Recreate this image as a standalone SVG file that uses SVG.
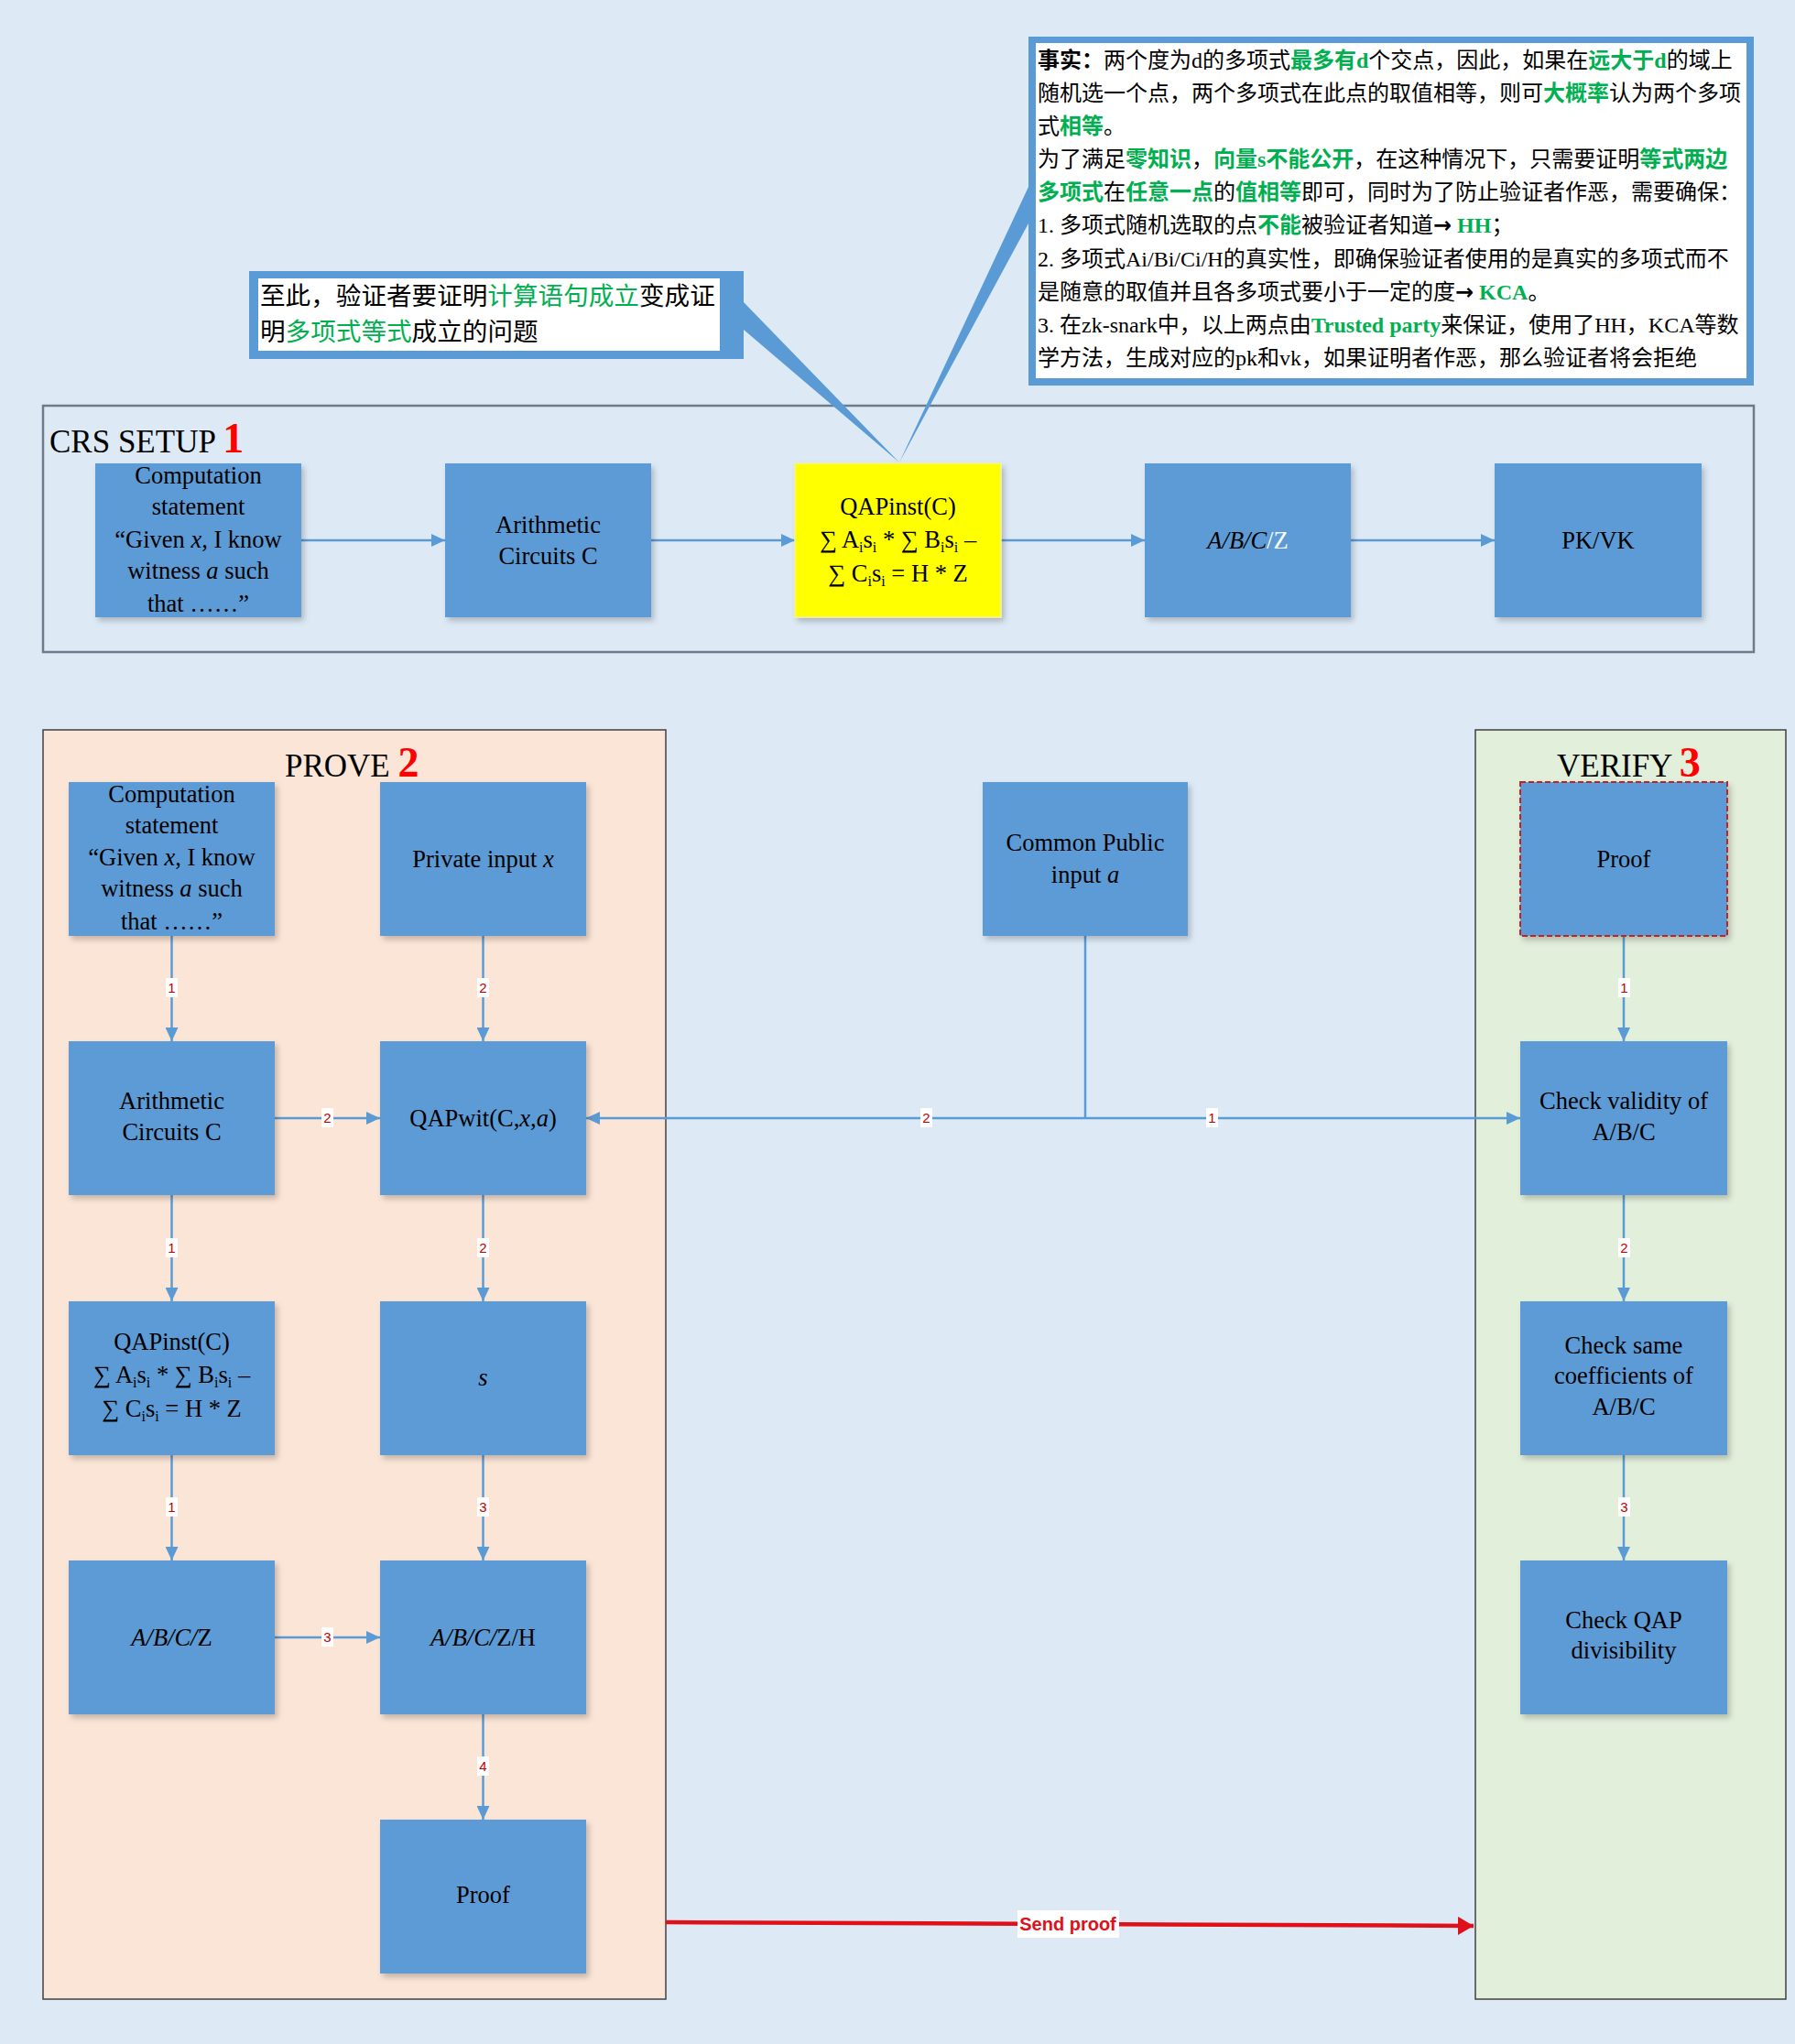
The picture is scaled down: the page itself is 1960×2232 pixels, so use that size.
<svg xmlns="http://www.w3.org/2000/svg" width="1960" height="2232" viewBox="0 0 1960 2232">
<defs>
<filter id="sh" x="-10%" y="-10%" width="130%" height="130%">
<feDropShadow dx="3" dy="4" stdDeviation="3" flood-color="#000" flood-opacity="0.22"/>
</filter>
<marker id="arr" markerUnits="userSpaceOnUse" markerWidth="16" markerHeight="14" refX="15" refY="7" orient="auto">
<path d="M0,0 L15,7 L0,14 z" fill="#5B9BD5"/>
</marker>
<marker id="arrR" markerUnits="userSpaceOnUse" markerWidth="18" markerHeight="20" refX="17" refY="10" orient="auto">
<path d="M0,0 L17,10 L0,20 z" fill="#E0101A"/>
</marker>
</defs>
<style>
.node{fill:#5B9BD5;filter:url(#sh)}
.t{font-family:'Liberation Serif','Times New Roman',serif;font-size:26.5px;text-anchor:middle;fill:#000}
.ttl{font-family:'Liberation Serif','Times New Roman',serif;font-size:35px;fill:#000}
.num{font-weight:bold;fill:#FF0000;font-size:46px}
.conn{stroke:#5B9BD5;stroke-width:2.5;fill:none}
.lbl{font-family:'Liberation Sans',Arial,sans-serif;font-size:15px;fill:#C00000;text-anchor:middle}
.lb{fill:#fff}
.cjk{font-family:'Liberation Serif','Noto Sans CJK SC',serif;font-size:24px;fill:#000}
.cjk2{font-family:'Liberation Serif','Noto Sans CJK SC',serif;font-size:27.6px;fill:#000}
.g{fill:#00B050}
.gb{fill:#00B050;font-weight:bold}
.i{font-style:italic}
.sub{font-size:16px}
.ar{font-family:'DejaVu Sans',sans-serif;font-weight:bold}
.cont{stroke:#404040;stroke-width:1.5}
</style>
<rect x="0" y="0" width="1960" height="2232" fill="#DDEAF6"/>

<!-- containers -->
<g id="crs-setup">
<rect x="47" y="443" width="1868" height="269" fill="#DDEAF6" stroke="#6D7B8D" stroke-width="2.5"/>
<text class="ttl" x="54" y="494">CRS SETUP <tspan class="num">1</tspan></text>
</g>
<g id="prove">
<rect class="cont" x="47" y="797" width="680" height="1386" fill="#FBE5D6"/>
<text class="ttl" x="311" y="848">PROVE <tspan class="num">2</tspan></text>
</g>
<g id="verify">
<rect class="cont" x="1611" y="797" width="339" height="1386" fill="#E2EFDA"/>
<text class="ttl" x="1700" y="848">VERIFY <tspan class="num">3</tspan></text>
</g>

<!-- callouts -->
<g id="callout-fact">
<polygon points="982,505 1123,204 1123,244" fill="#5B9BD5"/>
<rect x="1123" y="40" width="792" height="381" fill="#5B9BD5"/>
<rect x="1131" y="47" width="776" height="366" fill="#FFFFFF"/>
<text class="cjk" x="1133" y="74"><tspan font-weight="bold">事实：</tspan>两个度为d的多项式<tspan class="gb">最多有d</tspan>个交点，因此，如果在<tspan class="gb">远大于d</tspan>的域上</text>
<text class="cjk" x="1133" y="110">随机选一个点，两个多项式在此点的取值相等，则可<tspan class="gb">大概率</tspan>认为两个多项</text>
<text class="cjk" x="1133" y="146">式<tspan class="gb">相等</tspan>。</text>
<text class="cjk" x="1133" y="182">为了满足<tspan class="gb">零知识</tspan>，<tspan class="gb">向量s不能公开</tspan>，在这种情况下，只需要证明<tspan class="gb">等式两边</tspan></text>
<text class="cjk" x="1133" y="218"><tspan class="gb">多项式</tspan>在<tspan class="gb">任意一点</tspan>的<tspan class="gb">值相等</tspan>即可，同时为了防止验证者作恶，需要确保：</text>
<text class="cjk" x="1133" y="254">1. 多项式随机选取的点<tspan class="gb">不能</tspan>被验证者知道<tspan class="ar">→</tspan> <tspan class="gb">HH</tspan>；</text>
<text class="cjk" x="1133" y="291">2. 多项式Ai/Bi/Ci/H的真实性，即确保验证者使用的是真实的多项式而不</text>
<text class="cjk" x="1133" y="327">是随意的取值并且各多项式要小于一定的度<tspan class="ar">→</tspan> <tspan class="gb">KCA</tspan>。</text>
<text class="cjk" x="1133" y="363">3. 在zk-snark中，以上两点由<tspan class="gb">Trusted party</tspan>来保证，使用了HH，KCA等数</text>
<text class="cjk" x="1133" y="399">学方法，生成对应的pk和vk，如果证明者作恶，那么验证者将会拒绝</text>
</g>
<g id="callout-summary">
<polygon points="982,505 812,330 812,360" fill="#5B9BD5"/>
<rect x="272" y="296" width="540" height="96" fill="#5B9BD5"/>
<rect x="282" y="304" width="504" height="79" fill="#FFFFFF"/>
<text class="cjk2" x="284" y="333">至此，验证者要证明<tspan class="g">计算语句成立</tspan>变成证</text>
<text class="cjk2" x="284" y="372">明<tspan class="g">多项式等式</tspan>成立的问题</text>
</g>

<!-- connectors -->
<g id="connectors">
<line class="conn" x1="329" y1="590" x2="486" y2="590" marker-end="url(#arr)"/>
<line class="conn" x1="711" y1="590" x2="868" y2="590" marker-end="url(#arr)"/>
<line class="conn" x1="1093" y1="590" x2="1250" y2="590" marker-end="url(#arr)"/>
<line class="conn" x1="1475" y1="590" x2="1632" y2="590" marker-end="url(#arr)"/>

<line class="conn" x1="187.5" y1="1022" x2="187.5" y2="1137" marker-end="url(#arr)"/>
<line class="conn" x1="187.5" y1="1305" x2="187.5" y2="1421" marker-end="url(#arr)"/>
<line class="conn" x1="187.5" y1="1589" x2="187.5" y2="1704" marker-end="url(#arr)"/>
<line class="conn" x1="527.5" y1="1022" x2="527.5" y2="1137" marker-end="url(#arr)"/>
<line class="conn" x1="527.5" y1="1305" x2="527.5" y2="1421" marker-end="url(#arr)"/>
<line class="conn" x1="527.5" y1="1589" x2="527.5" y2="1704" marker-end="url(#arr)"/>
<line class="conn" x1="527.5" y1="1872" x2="527.5" y2="1987" marker-end="url(#arr)"/>
<line class="conn" x1="300" y1="1221" x2="415" y2="1221" marker-end="url(#arr)"/>
<line class="conn" x1="300" y1="1788" x2="415" y2="1788" marker-end="url(#arr)"/>

<line class="conn" x1="1185" y1="1022" x2="1185" y2="1221"/>
<line class="conn" x1="1185" y1="1221" x2="640" y2="1221" marker-end="url(#arr)"/>
<line class="conn" x1="1185" y1="1221" x2="1660" y2="1221" marker-end="url(#arr)"/>

<line class="conn" x1="1773" y1="1022" x2="1773" y2="1137" marker-end="url(#arr)"/>
<line class="conn" x1="1773" y1="1305" x2="1773" y2="1421" marker-end="url(#arr)"/>
<line class="conn" x1="1773" y1="1589" x2="1773" y2="1704" marker-end="url(#arr)"/>

<line x1="727" y1="2099" x2="1609" y2="2103" stroke="#E0101A" stroke-width="4.5" marker-end="url(#arrR)"/>

<rect class="lb" x="181" y="1068" width="13" height="21"/><text class="lbl" x="187.5" y="1084">1</text>
<rect class="lb" x="181" y="1352" width="13" height="21"/><text class="lbl" x="187.5" y="1368">1</text>
<rect class="lb" x="181" y="1635" width="13" height="21"/><text class="lbl" x="187.5" y="1651">1</text>
<rect class="lb" x="521" y="1068" width="13" height="21"/><text class="lbl" x="527.5" y="1084">2</text>
<rect class="lb" x="521" y="1352" width="13" height="21"/><text class="lbl" x="527.5" y="1368">2</text>
<rect class="lb" x="521" y="1635" width="13" height="21"/><text class="lbl" x="527.5" y="1651">3</text>
<rect class="lb" x="521" y="1918" width="13" height="21"/><text class="lbl" x="527.5" y="1934">4</text>
<rect class="lb" x="351" y="1210" width="13" height="21"/><text class="lbl" x="357.5" y="1226">2</text>
<rect class="lb" x="351" y="1777" width="13" height="21"/><text class="lbl" x="357.5" y="1793">3</text>
<rect class="lb" x="1005" y="1210" width="13" height="21"/><text class="lbl" x="1011.5" y="1226">2</text>
<rect class="lb" x="1317" y="1210" width="13" height="21"/><text class="lbl" x="1323.5" y="1226">1</text>
<rect class="lb" x="1767" y="1068" width="13" height="21"/><text class="lbl" x="1773.5" y="1084">1</text>
<rect class="lb" x="1767" y="1352" width="13" height="21"/><text class="lbl" x="1773.5" y="1368">2</text>
<rect class="lb" x="1767" y="1635" width="13" height="21"/><text class="lbl" x="1773.5" y="1651">3</text>

<rect class="lb" x="1111" y="2086" width="111" height="30"/>
<text x="1166" y="2108" text-anchor="middle" font-family="'Liberation Sans',Arial,sans-serif" font-size="20" font-weight="bold" fill="#E0101A">Send proof</text>
</g>

<!-- CRS row nodes -->
<g id="crs-statement">
<rect class="node" x="104" y="506" width="225" height="168"/>
<text class="t" x="216.5" y="528">Computation</text>
<text class="t" x="216.5" y="562">statement</text>
<text class="t" x="216.5" y="598">“Given <tspan class="i">x</tspan>, I know</text>
<text class="t" x="216.5" y="632">witness <tspan class="i">a</tspan> such</text>
<text class="t" x="216.5" y="668">that ……”</text>
</g>
<g id="crs-circuits">
<rect class="node" x="486" y="506" width="225" height="168"/>
<text class="t" x="598.5" y="582">Arithmetic</text>
<text class="t" x="598.5" y="616">Circuits C</text>
</g>
<g id="crs-qapinst">
<rect x="868" y="506" width="225" height="168" fill="#FFFF00" stroke="#F2F2A0" stroke-width="1.5" filter="url(#sh)"/>
<text class="t" x="980.5" y="562">QAPinst(C)</text>
<text class="t" x="980.5" y="598">∑ A<tspan class="sub" dy="5">i</tspan><tspan dy="-5">s</tspan><tspan class="sub" dy="5">i</tspan><tspan dy="-5"> *  ∑ B</tspan><tspan class="sub" dy="5">i</tspan><tspan dy="-5">s</tspan><tspan class="sub" dy="5">i</tspan><tspan dy="-5"> –</tspan></text>
<text class="t" x="980.5" y="635">∑ C<tspan class="sub" dy="5">i</tspan><tspan dy="-5">s</tspan><tspan class="sub" dy="5">i</tspan><tspan dy="-5"> = H * Z</tspan></text>
</g>
<g id="crs-abcz">
<rect class="node" x="1250" y="506" width="225" height="168"/>
<text class="t" x="1362.5" y="599"><tspan class="i">A/B/C</tspan><tspan fill="#FFFFFF">/Z</tspan></text>
</g>
<g id="crs-pkvk">
<rect class="node" x="1632" y="506" width="226" height="168"/>
<text class="t" x="1745" y="599">PK/VK</text>
</g>

<!-- PROVE nodes -->
<g id="p-statement">
<rect class="node" x="75" y="854" width="225" height="168"/>
<text class="t" x="187.5" y="876">Computation</text>
<text class="t" x="187.5" y="910">statement</text>
<text class="t" x="187.5" y="945">“Given <tspan class="i">x</tspan>, I know</text>
<text class="t" x="187.5" y="979">witness <tspan class="i">a</tspan> such</text>
<text class="t" x="187.5" y="1015">that ……”</text>
</g>
<g id="p-private">
<rect class="node" x="415" y="854" width="225" height="168"/>
<text class="t" x="527.5" y="947">Private input <tspan class="i">x</tspan></text>
</g>
<g id="p-circuits">
<rect class="node" x="75" y="1137" width="225" height="168"/>
<text class="t" x="187.5" y="1211">Arithmetic</text>
<text class="t" x="187.5" y="1245">Circuits C</text>
</g>
<g id="p-qapwit">
<rect class="node" x="415" y="1137" width="225" height="168"/>
<text class="t" x="527.5" y="1230">QAPwit(C,<tspan class="i">x</tspan>,<tspan class="i">a</tspan>)</text>
</g>
<g id="p-qapinst">
<rect class="node" x="75" y="1421" width="225" height="168"/>
<text class="t" x="187.5" y="1474">QAPinst(C)</text>
<text class="t" x="187.5" y="1510">∑ A<tspan class="sub" dy="5">i</tspan><tspan dy="-5">s</tspan><tspan class="sub" dy="5">i</tspan><tspan dy="-5"> *  ∑ B</tspan><tspan class="sub" dy="5">i</tspan><tspan dy="-5">s</tspan><tspan class="sub" dy="5">i</tspan><tspan dy="-5"> –</tspan></text>
<text class="t" x="187.5" y="1547">∑ C<tspan class="sub" dy="5">i</tspan><tspan dy="-5">s</tspan><tspan class="sub" dy="5">i</tspan><tspan dy="-5"> = H * Z</tspan></text>
</g>
<g id="p-s">
<rect class="node" x="415" y="1421" width="225" height="168"/>
<text class="t i" x="527.5" y="1513">s</text>
</g>
<g id="p-abcz">
<rect class="node" x="75" y="1704" width="225" height="168"/>
<text class="t" x="187.5" y="1797"><tspan class="i">A/B/C/</tspan>Z</text>
</g>
<g id="p-abczh">
<rect class="node" x="415" y="1704" width="225" height="168"/>
<text class="t" x="527.5" y="1797"><tspan class="i">A/B/C/</tspan>Z/H</text>
</g>
<g id="p-proof">
<rect class="node" x="415" y="1987" width="225" height="168"/>
<text class="t" x="527.5" y="2078">Proof</text>
</g>

<!-- public input -->
<g id="public-input">
<rect class="node" x="1073" y="854" width="224" height="168"/>
<text class="t" x="1185" y="929">Common Public</text>
<text class="t" x="1185" y="964">input <tspan class="i">a</tspan></text>
</g>

<!-- VERIFY nodes -->
<g id="v-proof">
<rect class="node" x="1660" y="854" width="226" height="168" stroke="#C0202A" stroke-width="2" stroke-dasharray="6,3"/>
<text class="t" x="1773" y="947">Proof</text>
</g>
<g id="v-validity">
<rect class="node" x="1660" y="1137" width="226" height="168"/>
<text class="t" x="1773" y="1211">Check validity of</text>
<text class="t" x="1773" y="1245">A/B/C</text>
</g>
<g id="v-coeff">
<rect class="node" x="1660" y="1421" width="226" height="168"/>
<text class="t" x="1773" y="1478">Check same</text>
<text class="t" x="1773" y="1511">coefficients of</text>
<text class="t" x="1773" y="1545">A/B/C</text>
</g>
<g id="v-qap">
<rect class="node" x="1660" y="1704" width="226" height="168"/>
<text class="t" x="1773" y="1778">Check QAP</text>
<text class="t" x="1773" y="1811">divisibility</text>
</g>
</svg>
